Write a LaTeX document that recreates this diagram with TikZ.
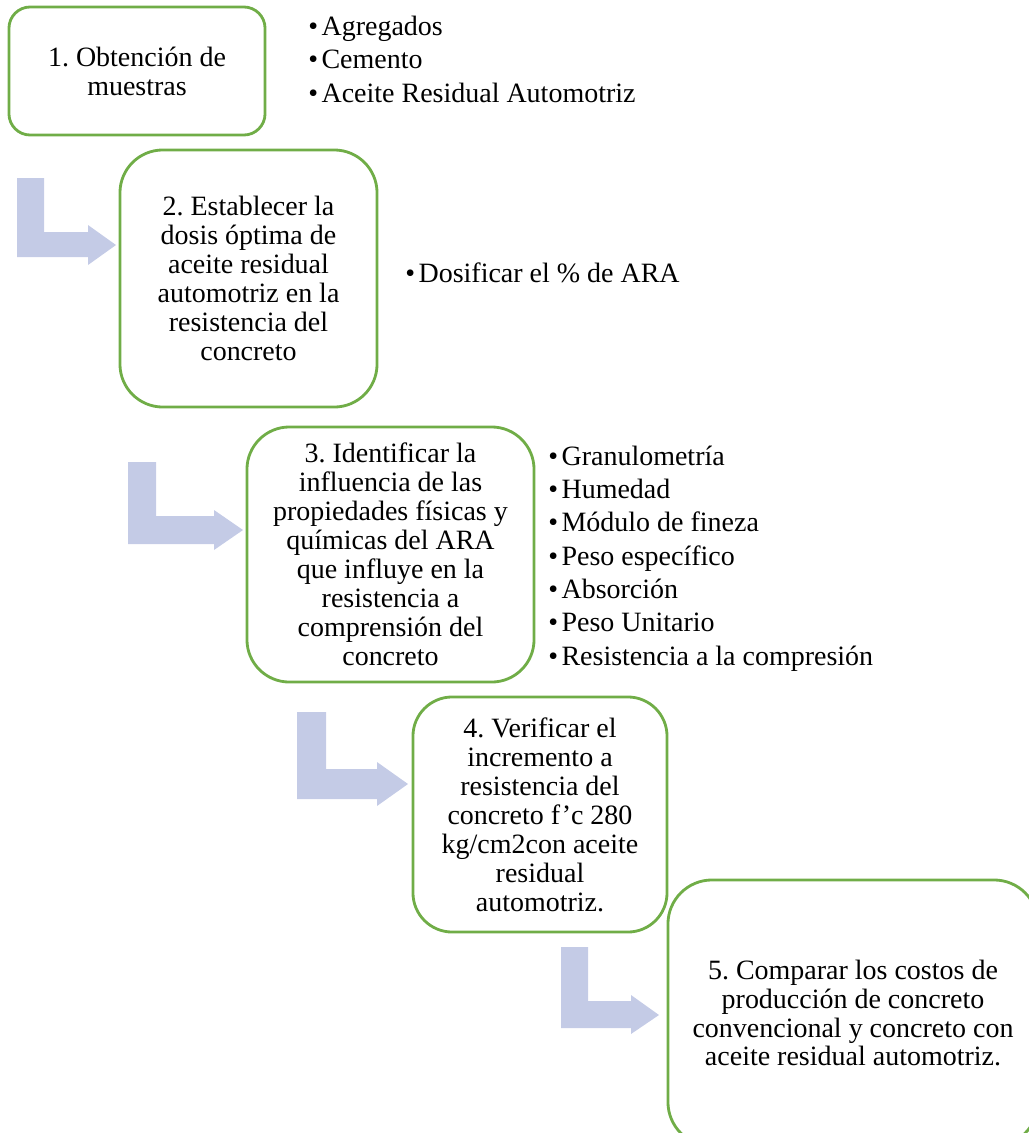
\documentclass[tikz,border=0pt]{standalone}
\usepackage{fontspec}
\setmainfont{Liberation Serif}
\usetikzlibrary{positioning}
\definecolor{stepgreen}{HTML}{70AD47}
\definecolor{arrowblue}{HTML}{C4CBE6}
\newcommand{\boxfont}{\fontsize{19.9pt}{20.6pt}\selectfont}
\newcommand{\listfont}{\fontsize{19.9pt}{23.7pt}\selectfont}
\newcommand{\itm}{•\kern2.5pt}
\frenchspacing
\tikzset{
  stepbox/.style={draw=stepgreen, line width=2pt, rounded corners=#1,
    align=center, inner sep=0pt, font=\boxfont},
  stepbox/.default=0.5cm,
  itemlist/.style={anchor=base west, align=left, inner sep=0pt, font=\listfont},
  flowarrow/.style={fill=arrowblue}
}

\begin{document}
\begin{tikzpicture}[x=0.025cm, y=-0.025cm]
\useasboundingbox (0,0) rectangle (1029,1133);
% pasos
\node[stepbox=0.53cm, minimum width=6.4cm, minimum height=3.2cm] (paso1) at (137,71)
  {1. Obtención de\\muestras};
\node[stepbox=1.07cm, minimum width=6.425cm, minimum height=6.425cm] (paso2) at (248.5,278.5)
  {2. Establecer la\\dosis óptima de\\aceite residual\\automotriz en la\\resistencia del\\concreto};
\node[stepbox=1.06cm, minimum width=7.175cm, minimum height=6.375cm] (paso3) at (390.5,554.5)
  {3. Identificar la\\influencia de las\\propiedades físicas y\\químicas del ARA\\que influye en la\\resistencia a\\comprensión del\\concreto};
\node[stepbox=0.98cm, minimum width=6.35cm, minimum height=5.875cm] (paso4) at (540,814.5)
  {4. Verificar el\\incremento a\\resistencia del\\concreto f’c 280\\kg/cm2con aceite\\residual\\automotriz.};
\node[stepbox=1.1cm, minimum width=9.25cm, minimum height=6.65cm] (paso5) at (853,1013)
  {5. Comparar los costos de\\producción de concreto\\convencional y concreto con\\aceite residual automotriz.};
%
% listas (base = ultima linea)
\node[itemlist] (lista1) at (308,102)
  {\itm Agregados\\\itm Cemento\\\itm Aceite Residual Automotriz};
\node[itemlist] (lista2) at (405,282)
  {\itm Dosificar el \% de ARA};
\node[itemlist] (lista3) at (548,665)
  {\itm Granulometría\\\itm Humedad\\\itm Módulo de fineza\\\itm Peso específico\\\itm Absorción\\\itm Peso Unitario\\\itm Resistencia a la compresión};
%
% flechas
\fill[flowarrow] (17,178) -- (44,178) -- (44,232) -- (88,232) -- (88,225) -- (116,245)
  -- (88,265) -- (88,257) -- (17,257) -- cycle;
\fill[flowarrow] (128,462) -- (156,462) -- (156,516) -- (214,516) -- (214,510) -- (243,530)
  -- (214,550) -- (214,544) -- (128,544) -- cycle;
\fill[flowarrow] (297,712) -- (326,712) -- (326,769) -- (377,769) -- (377,762) -- (408,784)
  -- (377,806) -- (377,799) -- (297,799) -- cycle;
\fill[flowarrow] (561,947) -- (588,947) -- (588,1001) -- (631,1001) -- (631,995) -- (659,1015)
  -- (631,1034) -- (631,1028) -- (561,1028) -- cycle;
\end{tikzpicture}
\end{document}
